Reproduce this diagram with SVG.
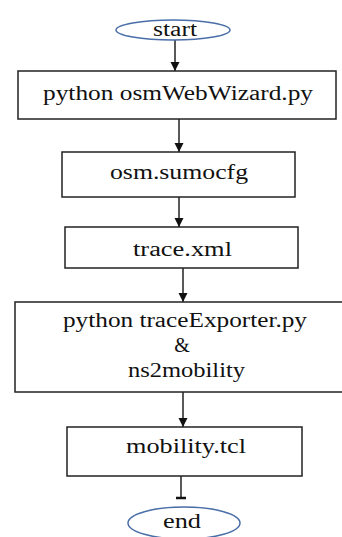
<svg xmlns="http://www.w3.org/2000/svg" width="342" height="537" viewBox="0 0 342 537">
<defs>
<marker id="ah" markerWidth="10" markerHeight="10" refX="9" refY="5" orient="auto" markerUnits="userSpaceOnUse">
<path d="M0,0.5 L9,5 L0,9.5 Z" fill="#111"/>
</marker>
</defs>
<style>
.box{fill:#fff;stroke:#222;stroke-width:1.5}
.term{fill:#fff;stroke:#4a6ea8;stroke-width:1.5}
.c{stroke:#222;stroke-width:1.5;fill:none}
</style>
<rect width="342" height="537" fill="#fff"/>
<g id="connectors">
<line class="c" x1="175" y1="40" x2="175" y2="71" marker-end="url(#ah)"/>
<line class="c" x1="179" y1="119" x2="179" y2="152" marker-end="url(#ah)"/>
<line class="c" x1="179" y1="197" x2="179" y2="227" marker-end="url(#ah)"/>
<line class="c" x1="183" y1="268" x2="183" y2="302" marker-end="url(#ah)"/>
<line class="c" x1="183" y1="392" x2="183" y2="427" marker-end="url(#ah)"/>
<line class="c" x1="181" y1="476" x2="181" y2="498"/>
<line x1="176" y1="498" x2="186" y2="498" stroke="#111" stroke-width="2.5"/>
</g>
<g id="start">
<ellipse class="term" cx="173" cy="30" rx="57" ry="10"/>
<text font-family="Liberation Serif" font-size="20" fill="#111" text-anchor="middle" x="175" y="36" textLength="44" lengthAdjust="spacingAndGlyphs">start</text>
</g>
<g id="webwizard">
<rect class="box" x="18" y="71" width="318" height="48"/>
<text font-family="Liberation Serif" font-size="20" fill="#111" text-anchor="middle" x="178" y="100" textLength="270" lengthAdjust="spacingAndGlyphs">python osmWebWizard.py</text>
</g>
<g id="sumocfg">
<rect class="box" x="62" y="152" width="233" height="45"/>
<text font-family="Liberation Serif" font-size="20" fill="#111" text-anchor="middle" x="179" y="179" textLength="138" lengthAdjust="spacingAndGlyphs">osm.sumocfg</text>
</g>
<g id="trace">
<rect class="box" x="65" y="227" width="233" height="41"/>
<text font-family="Liberation Serif" font-size="20" fill="#111" text-anchor="middle" x="182.5" y="256" textLength="99" lengthAdjust="spacingAndGlyphs">trace.xml</text>
</g>
<g id="exporter">
<rect class="box" x="15" y="302" width="340" height="90"/>
<text font-family="Liberation Serif" font-size="20" fill="#111" text-anchor="middle" x="185" y="327" textLength="244" lengthAdjust="spacingAndGlyphs">python traceExporter.py</text>
<text font-family="Liberation Serif" font-size="20" fill="#111" text-anchor="middle" x="182" y="352">&amp;</text>
<text font-family="Liberation Serif" font-size="20" fill="#111" text-anchor="middle" x="186.5" y="377" textLength="117" lengthAdjust="spacingAndGlyphs">ns2mobility</text>
</g>
<g id="mobility">
<rect class="box" x="67" y="427" width="235" height="49"/>
<text font-family="Liberation Serif" font-size="20" fill="#111" text-anchor="middle" x="186" y="453" textLength="120" lengthAdjust="spacingAndGlyphs">mobility.tcl</text>
</g>
<g id="end">
<ellipse class="term" cx="184" cy="523" rx="56" ry="16"/>
<text font-family="Liberation Serif" font-size="20" fill="#111" text-anchor="middle" x="182" y="528" textLength="38" lengthAdjust="spacingAndGlyphs">end</text>
</g>
</svg>
